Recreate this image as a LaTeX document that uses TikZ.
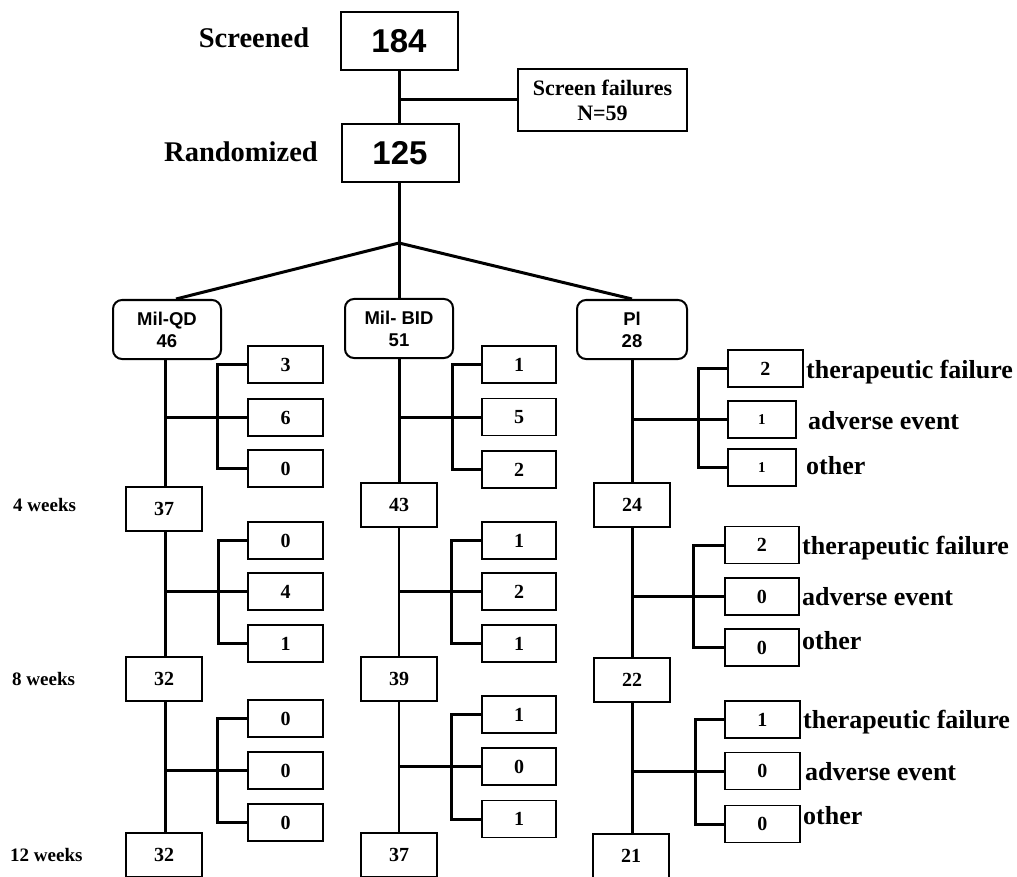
\documentclass[tikz,border=0pt]{standalone}
\usepackage{fontspec}
\setmainfont{Liberation Serif}
\newfontfamily\arialf{Liberation Sans}
\begin{document}
\begin{tikzpicture}[x=1pt,y=-1pt,
  conn/.style={line width=3pt},
  connthin/.style={line width=2.4pt},
  bigbox/.style={draw,line width=2pt,inner sep=0pt,minimum width=117pt,minimum height=58pt,font=\arialf\bfseries\fontsize{33}{36}\selectfont},
  sfbox/.style={draw,line width=2pt,inner sep=0pt,minimum width=169pt,minimum height=62pt,align=center,font=\bfseries\fontsize{22}{25}\selectfont},
  armbox/.style={draw,line width=2pt,rounded corners=9pt,inner sep=0pt,minimum height=59pt,align=center,font=\arialf\bfseries\fontsize{18.5}{22}\selectfont},
  cbox/.style={draw,line width=2pt,inner sep=0pt,minimum width=76pt,minimum height=44pt,font=\bfseries\fontsize{20}{22}\selectfont},
  sbox/.style={draw,line width=1.6pt,inner sep=0pt,minimum width=75pt,minimum height=37pt,font=\bfseries\fontsize{20}{22}\selectfont},
  biglbl/.style={inner sep=0pt,font=\bfseries\fontsize{28.5}{30}\selectfont},
  lbl/.style={anchor=west,inner sep=0pt,font=\bfseries\fontsize{26}{28}\selectfont},
  wk/.style={anchor=west,inner sep=0pt,font=\bfseries\fontsize{19}{21}\selectfont}]
\useasboundingbox (0,0) rectangle (1017,877);

% top
\node[biglbl] (tscr) at (254,38) {Screened};
\node[biglbl,anchor=east] (trand) at (318,152) {Randomized};
\node[bigbox] (n184) at (399,41) {184};
\node[bigbox] (n125) at (400,153) {125};
\node[sfbox] (sf) at (602.5,100) {Screen failures\\N=59};
\coordinate (j) at (399,243);

\draw[conn] (n184.south -| 399,0) -- (n125.north -| 399,0);
\draw[conn] (sf.west) -- (sf.west -| 399,0);
\draw[conn] (n125.south -| 399,0) -- (j);

% arms
\node[armbox,minimum width=108pt] (mqd) at (167,329.5) {Mil-QD\\46};
\node[armbox,minimum width=108pt] (mbid) at (399,328.5) {Mil- BID\\51};
\node[armbox,minimum width=110pt] (pl) at (632,329.5) {Pl\\28};
\draw[conn] (j) -- ([xshift=9pt]mqd.north);
\draw[conn] (j) -- (mbid.north);
\draw[conn] (j) -- (pl.north);

% week labels
\node[wk] (w4) at (13,505) {4 weeks};
\node[wk] (w8) at (12,679) {8 weeks};
\node[wk] (w12) at (10,855) {12 weeks};

% ---------------- column 1 (x=165)
\node[cbox] (a1) at (164,509) {37};
\node[cbox] (a2) at (164,679) {32};
\node[cbox] (a3) at (164,854.5) {32};
\node[sbox] (a11) at (285.5,364.5) {3};
\node[sbox] (a12) at (285.5,417.5) {6};
\node[sbox] (a13) at (285.5,468.5) {0};
\node[sbox] (a21) at (285.5,540.5) {0};
\node[sbox] (a22) at (285.5,591.5) {4};
\node[sbox] (a23) at (285.5,643.5) {1};
\node[sbox] (a31) at (285.5,718.5) {0};
\node[sbox] (a32) at (285.5,770.5) {0};
\node[sbox] (a33) at (285.5,822.5) {0};
\draw[conn] (a1.north -| 165,0) -- (mqd.south -| 165,0);
\draw[conn] (a1.south -| 165,0) -- (a2.north -| 165,0);
\draw[conn] (a2.south -| 165,0) -- (a3.north -| 165,0);
\draw[conn] (a12.west) -- (a12.west -| 165,0);
\draw[conn] (a22.west) -- (a22.west -| 165,0);
\draw[conn] (a32.west) -- (a32.west -| 165,0);
\draw[conn] (a11.west) -- ++(-30,0) |- (a13.west);
\draw[conn] (a21.west) -- ++(-29,0) |- (a23.west);
\draw[conn] (a31.west) -- ++(-30,0) |- (a33.west);

% ---------------- column 2 (x=399)
\node[cbox] (b1) at (399,505) {43};
\node[cbox] (b2) at (399,679) {39};
\node[cbox] (b3) at (399,854.5) {37};
\node[sbox,minimum width=74pt] (b11) at (519,364.5) {1};
\node[sbox,minimum width=74pt] (b12) at (519,417) {5};
\node[sbox,minimum width=74pt] (b13) at (519,469.5) {2};
\node[sbox,minimum width=74pt] (b21) at (519,540.5) {1};
\node[sbox,minimum width=74pt] (b22) at (519,591.5) {2};
\node[sbox,minimum width=74pt] (b23) at (519,643.5) {1};
\node[sbox,minimum width=74pt] (b31) at (519,714.5) {1};
\node[sbox,minimum width=74pt] (b32) at (519,766.5) {0};
\node[sbox,minimum width=74pt] (b33) at (519,819) {1};
\draw[conn] (b1.north) -- (mbid.south);
\draw[connthin] (b1.south) -- (b2.north);
\draw[connthin] (b2.south) -- (b3.north);
\draw[conn] (b12.west) -- (b12.west -| b1.center);
\draw[conn] (b22.west) -- (b22.west -| b1.center);
\draw[conn] (b32.west) -- (b32.west -| b1.center);
\draw[conn] (b11.west) -- ++(-29,0) |- (b13.west);
\draw[conn] (b21.west) -- ++(-30,0) |- (b23.west);
\draw[conn] (b31.west) -- ++(-30,0) |- (b33.west);

% ---------------- column 3 (x=632)
\node[cbox] (c1) at (632,505) {24};
\node[cbox] (c2) at (632,680) {22};
\node[cbox] (c3) at (631,855.5) {21};
\node[sbox,anchor=west] (c11) at (727,368.5) {2};
\node[sbox,anchor=west,minimum width=68pt,font=\bfseries\fontsize{15}{17}\selectfont] (c12) at (727,419.5) {1};
\node[sbox,anchor=west,minimum width=68pt,font=\bfseries\fontsize{15}{17}\selectfont] (c13) at (727,467.5) {1};
\node[sbox,anchor=west,minimum width=74pt] (c21) at (724,545) {2};
\node[sbox,anchor=west,minimum width=74pt] (c22) at (724,596.5) {0};
\node[sbox,anchor=west,minimum width=74pt] (c23) at (724,647.5) {0};
\node[sbox,anchor=west] (c31) at (724,719.5) {1};
\node[sbox,anchor=west] (c32) at (724,771) {0};
\node[sbox,anchor=west] (c33) at (724,824) {0};
\draw[conn] (c1.north) -- (pl.south -| c1.north);
\draw[conn] (c1.south) -- (c2.north);
\draw[conn] (c2.south) -- (c2.south |- c3.north);
\draw[conn] (c12.west) -- (c12.west -| c1.center);
\draw[conn] (c22.west) -- (c22.west -| c1.center);
\draw[conn] (c32.west) -- (c32.west -| c1.center);
\draw[conn] (c11.west) -- ++(-29,0) |- (c13.west);
\draw[conn] (c21.west) -- ++(-31,0) |- (c23.west);
\draw[conn] (c31.west) -- ++(-29,0) |- (c33.west);

% labels
\node[lbl] (l11) at (806,372) {therapeutic failure};
\node[lbl] (l12) at (808,421) {adverse event};
\node[lbl] (l13) at (806,466) {other};
\node[lbl] (l21) at (802,548) {therapeutic failure};
\node[lbl] (l22) at (802,597) {adverse event};
\node[lbl] (l23) at (802,641) {other};
\node[lbl] (l31) at (803,722) {therapeutic failure};
\node[lbl] (l32) at (805,772) {adverse event};
\node[lbl] (l33) at (803,816) {other};
\end{tikzpicture}
\end{document}
